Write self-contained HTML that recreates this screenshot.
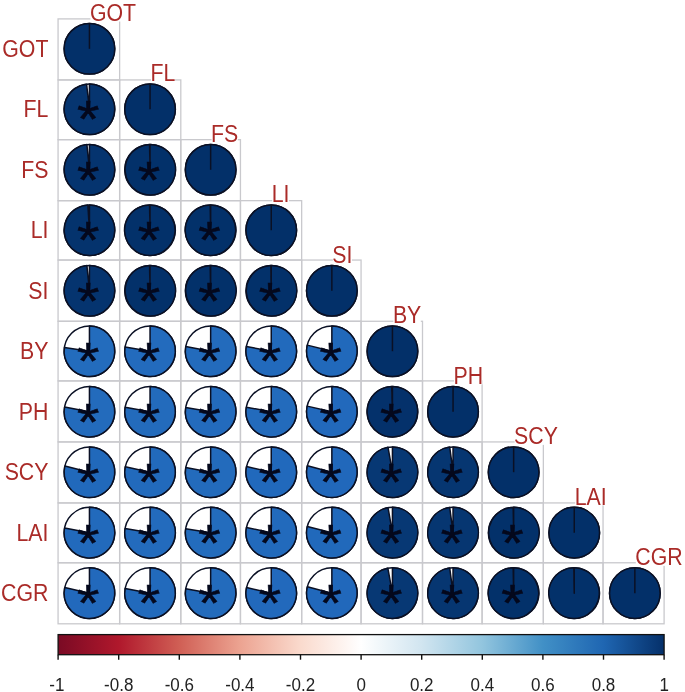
<!DOCTYPE html>
<html><head><meta charset="utf-8"><title>Correlation plot</title>
<style>html,body{margin:0;padding:0;background:#fff}svg{display:block}</style></head>
<body>
<svg width="685" height="692" viewBox="0 0 685 692" font-family="'Liberation Sans', sans-serif">
<rect width="685" height="692" fill="#fff"/>
<rect x="58.07" y="18.90" width="61.56" height="61.03" fill="none" stroke="#c9c9cd" stroke-width="1.3"/>
<rect x="58.07" y="79.93" width="61.56" height="59.71" fill="none" stroke="#c9c9cd" stroke-width="1.3"/>
<rect x="119.63" y="79.93" width="61.17" height="59.71" fill="none" stroke="#c9c9cd" stroke-width="1.3"/>
<rect x="58.07" y="139.64" width="61.56" height="61.02" fill="none" stroke="#c9c9cd" stroke-width="1.3"/>
<rect x="119.63" y="139.64" width="61.17" height="61.02" fill="none" stroke="#c9c9cd" stroke-width="1.3"/>
<rect x="180.80" y="139.64" width="59.65" height="61.02" fill="none" stroke="#c9c9cd" stroke-width="1.3"/>
<rect x="58.07" y="200.66" width="61.56" height="59.39" fill="none" stroke="#c9c9cd" stroke-width="1.3"/>
<rect x="119.63" y="200.66" width="61.17" height="59.39" fill="none" stroke="#c9c9cd" stroke-width="1.3"/>
<rect x="180.80" y="200.66" width="59.65" height="59.39" fill="none" stroke="#c9c9cd" stroke-width="1.3"/>
<rect x="240.45" y="200.66" width="61.21" height="59.39" fill="none" stroke="#c9c9cd" stroke-width="1.3"/>
<rect x="58.07" y="260.05" width="61.56" height="61.23" fill="none" stroke="#c9c9cd" stroke-width="1.3"/>
<rect x="119.63" y="260.05" width="61.17" height="61.23" fill="none" stroke="#c9c9cd" stroke-width="1.3"/>
<rect x="180.80" y="260.05" width="59.65" height="61.23" fill="none" stroke="#c9c9cd" stroke-width="1.3"/>
<rect x="240.45" y="260.05" width="61.21" height="61.23" fill="none" stroke="#c9c9cd" stroke-width="1.3"/>
<rect x="301.66" y="260.05" width="59.41" height="61.23" fill="none" stroke="#c9c9cd" stroke-width="1.3"/>
<rect x="58.07" y="321.28" width="61.56" height="59.62" fill="none" stroke="#c9c9cd" stroke-width="1.3"/>
<rect x="119.63" y="321.28" width="61.17" height="59.62" fill="none" stroke="#c9c9cd" stroke-width="1.3"/>
<rect x="180.80" y="321.28" width="59.65" height="59.62" fill="none" stroke="#c9c9cd" stroke-width="1.3"/>
<rect x="240.45" y="321.28" width="61.21" height="59.62" fill="none" stroke="#c9c9cd" stroke-width="1.3"/>
<rect x="301.66" y="321.28" width="59.41" height="59.62" fill="none" stroke="#c9c9cd" stroke-width="1.3"/>
<rect x="361.07" y="321.28" width="61.43" height="59.62" fill="none" stroke="#c9c9cd" stroke-width="1.3"/>
<rect x="58.07" y="380.90" width="61.56" height="61.03" fill="none" stroke="#c9c9cd" stroke-width="1.3"/>
<rect x="119.63" y="380.90" width="61.17" height="61.03" fill="none" stroke="#c9c9cd" stroke-width="1.3"/>
<rect x="180.80" y="380.90" width="59.65" height="61.03" fill="none" stroke="#c9c9cd" stroke-width="1.3"/>
<rect x="240.45" y="380.90" width="61.21" height="61.03" fill="none" stroke="#c9c9cd" stroke-width="1.3"/>
<rect x="301.66" y="380.90" width="59.41" height="61.03" fill="none" stroke="#c9c9cd" stroke-width="1.3"/>
<rect x="361.07" y="380.90" width="61.43" height="61.03" fill="none" stroke="#c9c9cd" stroke-width="1.3"/>
<rect x="422.50" y="380.90" width="59.60" height="61.03" fill="none" stroke="#c9c9cd" stroke-width="1.3"/>
<rect x="58.07" y="441.93" width="61.56" height="61.00" fill="none" stroke="#c9c9cd" stroke-width="1.3"/>
<rect x="119.63" y="441.93" width="61.17" height="61.00" fill="none" stroke="#c9c9cd" stroke-width="1.3"/>
<rect x="180.80" y="441.93" width="59.65" height="61.00" fill="none" stroke="#c9c9cd" stroke-width="1.3"/>
<rect x="240.45" y="441.93" width="61.21" height="61.00" fill="none" stroke="#c9c9cd" stroke-width="1.3"/>
<rect x="301.66" y="441.93" width="59.41" height="61.00" fill="none" stroke="#c9c9cd" stroke-width="1.3"/>
<rect x="361.07" y="441.93" width="61.43" height="61.00" fill="none" stroke="#c9c9cd" stroke-width="1.3"/>
<rect x="422.50" y="441.93" width="59.60" height="61.00" fill="none" stroke="#c9c9cd" stroke-width="1.3"/>
<rect x="482.10" y="441.93" width="61.26" height="61.00" fill="none" stroke="#c9c9cd" stroke-width="1.3"/>
<rect x="58.07" y="502.93" width="61.56" height="59.85" fill="none" stroke="#c9c9cd" stroke-width="1.3"/>
<rect x="119.63" y="502.93" width="61.17" height="59.85" fill="none" stroke="#c9c9cd" stroke-width="1.3"/>
<rect x="180.80" y="502.93" width="59.65" height="59.85" fill="none" stroke="#c9c9cd" stroke-width="1.3"/>
<rect x="240.45" y="502.93" width="61.21" height="59.85" fill="none" stroke="#c9c9cd" stroke-width="1.3"/>
<rect x="301.66" y="502.93" width="59.41" height="59.85" fill="none" stroke="#c9c9cd" stroke-width="1.3"/>
<rect x="361.07" y="502.93" width="61.43" height="59.85" fill="none" stroke="#c9c9cd" stroke-width="1.3"/>
<rect x="422.50" y="502.93" width="59.60" height="59.85" fill="none" stroke="#c9c9cd" stroke-width="1.3"/>
<rect x="482.10" y="502.93" width="61.26" height="59.85" fill="none" stroke="#c9c9cd" stroke-width="1.3"/>
<rect x="543.36" y="502.93" width="59.69" height="59.85" fill="none" stroke="#c9c9cd" stroke-width="1.3"/>
<rect x="58.07" y="562.78" width="61.56" height="61.02" fill="none" stroke="#c9c9cd" stroke-width="1.3"/>
<rect x="119.63" y="562.78" width="61.17" height="61.02" fill="none" stroke="#c9c9cd" stroke-width="1.3"/>
<rect x="180.80" y="562.78" width="59.65" height="61.02" fill="none" stroke="#c9c9cd" stroke-width="1.3"/>
<rect x="240.45" y="562.78" width="61.21" height="61.02" fill="none" stroke="#c9c9cd" stroke-width="1.3"/>
<rect x="301.66" y="562.78" width="59.41" height="61.02" fill="none" stroke="#c9c9cd" stroke-width="1.3"/>
<rect x="361.07" y="562.78" width="61.43" height="61.02" fill="none" stroke="#c9c9cd" stroke-width="1.3"/>
<rect x="422.50" y="562.78" width="59.60" height="61.02" fill="none" stroke="#c9c9cd" stroke-width="1.3"/>
<rect x="482.10" y="562.78" width="61.26" height="61.02" fill="none" stroke="#c9c9cd" stroke-width="1.3"/>
<rect x="543.36" y="562.78" width="59.69" height="61.02" fill="none" stroke="#c9c9cd" stroke-width="1.3"/>
<rect x="603.05" y="562.78" width="61.05" height="61.02" fill="none" stroke="#c9c9cd" stroke-width="1.3"/>
<circle cx="89.45" cy="48.79" r="25.3" fill="#fff" stroke="#0a1024" stroke-width="1.5"/>
<circle cx="89.45" cy="48.79" r="25.3" fill="#033069" stroke="#0a1024" stroke-width="1.5"/>
<line x1="89.45" y1="48.79" x2="89.45" y2="23.49" stroke="#0a1024" stroke-width="1.5"/>
<circle cx="89.45" cy="109.28" r="25.3" fill="#fff" stroke="#0a1024" stroke-width="1.5"/>
<path d="M89.45,109.28 L89.45,83.98 A25.3,25.3 0 1 1 86.59,84.14 Z" fill="#063570" stroke="#0a1024" stroke-width="1.5" stroke-linejoin="round"/>
<text transform="translate(88.25,137.43) scale(1,0.9)" x="0" y="0" font-size="57.5" text-anchor="middle" fill="#04081c" stroke="#04081c" stroke-width="0.6">*</text>
<circle cx="150.05" cy="109.28" r="25.3" fill="#fff" stroke="#0a1024" stroke-width="1.5"/>
<circle cx="150.05" cy="109.28" r="25.3" fill="#033069" stroke="#0a1024" stroke-width="1.5"/>
<line x1="150.05" y1="109.28" x2="150.05" y2="83.98" stroke="#0a1024" stroke-width="1.5"/>
<circle cx="89.45" cy="169.76" r="25.3" fill="#fff" stroke="#0a1024" stroke-width="1.5"/>
<path d="M89.45,169.76 L89.45,144.46 A25.3,25.3 0 1 1 86.91,144.59 Z" fill="#05346f" stroke="#0a1024" stroke-width="1.5" stroke-linejoin="round"/>
<text transform="translate(88.25,197.91) scale(1,0.9)" x="0" y="0" font-size="57.5" text-anchor="middle" fill="#04081c" stroke="#04081c" stroke-width="0.6">*</text>
<circle cx="150.05" cy="169.76" r="25.3" fill="#fff" stroke="#0a1024" stroke-width="1.5"/>
<path d="M150.05,169.76 L150.05,144.46 A25.3,25.3 0 1 1 149.57,144.47 Z" fill="#03316a" stroke="#0a1024" stroke-width="1.5" stroke-linejoin="round"/>
<text transform="translate(148.85,197.91) scale(1,0.9)" x="0" y="0" font-size="57.5" text-anchor="middle" fill="#04081c" stroke="#04081c" stroke-width="0.6">*</text>
<circle cx="210.65" cy="169.76" r="25.3" fill="#fff" stroke="#0a1024" stroke-width="1.5"/>
<circle cx="210.65" cy="169.76" r="25.3" fill="#033069" stroke="#0a1024" stroke-width="1.5"/>
<line x1="210.65" y1="169.76" x2="210.65" y2="144.46" stroke="#0a1024" stroke-width="1.5"/>
<circle cx="89.45" cy="230.25" r="25.3" fill="#fff" stroke="#0a1024" stroke-width="1.5"/>
<path d="M89.45,230.25 L89.45,204.95 A25.3,25.3 0 1 1 87.86,205.00 Z" fill="#04336d" stroke="#0a1024" stroke-width="1.5" stroke-linejoin="round"/>
<text transform="translate(88.25,258.40) scale(1,0.9)" x="0" y="0" font-size="57.5" text-anchor="middle" fill="#04081c" stroke="#04081c" stroke-width="0.6">*</text>
<circle cx="150.05" cy="230.25" r="25.3" fill="#fff" stroke="#0a1024" stroke-width="1.5"/>
<path d="M150.05,230.25 L150.05,204.95 A25.3,25.3 0 1 1 149.57,204.95 Z" fill="#03316a" stroke="#0a1024" stroke-width="1.5" stroke-linejoin="round"/>
<text transform="translate(148.85,258.40) scale(1,0.9)" x="0" y="0" font-size="57.5" text-anchor="middle" fill="#04081c" stroke="#04081c" stroke-width="0.6">*</text>
<circle cx="210.65" cy="230.25" r="25.3" fill="#fff" stroke="#0a1024" stroke-width="1.5"/>
<path d="M210.65,230.25 L210.65,204.95 A25.3,25.3 0 1 1 210.17,204.95 Z" fill="#03316a" stroke="#0a1024" stroke-width="1.5" stroke-linejoin="round"/>
<text transform="translate(209.45,258.40) scale(1,0.9)" x="0" y="0" font-size="57.5" text-anchor="middle" fill="#04081c" stroke="#04081c" stroke-width="0.6">*</text>
<circle cx="271.25" cy="230.25" r="25.3" fill="#fff" stroke="#0a1024" stroke-width="1.5"/>
<circle cx="271.25" cy="230.25" r="25.3" fill="#033069" stroke="#0a1024" stroke-width="1.5"/>
<line x1="271.25" y1="230.25" x2="271.25" y2="204.95" stroke="#0a1024" stroke-width="1.5"/>
<circle cx="89.45" cy="290.73" r="25.3" fill="#fff" stroke="#0a1024" stroke-width="1.5"/>
<path d="M89.45,290.73 L89.45,265.43 A25.3,25.3 0 1 1 86.91,265.56 Z" fill="#05346f" stroke="#0a1024" stroke-width="1.5" stroke-linejoin="round"/>
<text transform="translate(88.25,318.88) scale(1,0.9)" x="0" y="0" font-size="57.5" text-anchor="middle" fill="#04081c" stroke="#04081c" stroke-width="0.6">*</text>
<circle cx="150.05" cy="290.73" r="25.3" fill="#fff" stroke="#0a1024" stroke-width="1.5"/>
<path d="M150.05,290.73 L150.05,265.43 A25.3,25.3 0 1 1 149.57,265.44 Z" fill="#03316a" stroke="#0a1024" stroke-width="1.5" stroke-linejoin="round"/>
<text transform="translate(148.85,318.88) scale(1,0.9)" x="0" y="0" font-size="57.5" text-anchor="middle" fill="#04081c" stroke="#04081c" stroke-width="0.6">*</text>
<circle cx="210.65" cy="290.73" r="25.3" fill="#fff" stroke="#0a1024" stroke-width="1.5"/>
<path d="M210.65,290.73 L210.65,265.43 A25.3,25.3 0 1 1 210.17,265.44 Z" fill="#03316a" stroke="#0a1024" stroke-width="1.5" stroke-linejoin="round"/>
<text transform="translate(209.45,318.88) scale(1,0.9)" x="0" y="0" font-size="57.5" text-anchor="middle" fill="#04081c" stroke="#04081c" stroke-width="0.6">*</text>
<circle cx="271.25" cy="290.73" r="25.3" fill="#fff" stroke="#0a1024" stroke-width="1.5"/>
<path d="M271.25,290.73 L271.25,265.43 A25.3,25.3 0 1 1 270.77,265.44 Z" fill="#03316a" stroke="#0a1024" stroke-width="1.5" stroke-linejoin="round"/>
<text transform="translate(270.05,318.88) scale(1,0.9)" x="0" y="0" font-size="57.5" text-anchor="middle" fill="#04081c" stroke="#04081c" stroke-width="0.6">*</text>
<circle cx="331.85" cy="290.73" r="25.3" fill="#fff" stroke="#0a1024" stroke-width="1.5"/>
<circle cx="331.85" cy="290.73" r="25.3" fill="#033069" stroke="#0a1024" stroke-width="1.5"/>
<line x1="331.85" y1="290.73" x2="331.85" y2="265.43" stroke="#0a1024" stroke-width="1.5"/>
<circle cx="89.45" cy="351.22" r="25.3" fill="#fff" stroke="#0a1024" stroke-width="1.5"/>
<path d="M89.45,351.22 L89.45,325.92 A25.3,25.3 0 1 1 64.43,347.48 Z" fill="#236cbd" stroke="#0a1024" stroke-width="1.5" stroke-linejoin="round"/>
<text transform="translate(88.25,379.37) scale(1,0.9)" x="0" y="0" font-size="57.5" text-anchor="middle" fill="#04081c" stroke="#04081c" stroke-width="0.6">*</text>
<circle cx="150.05" cy="351.22" r="25.3" fill="#fff" stroke="#0a1024" stroke-width="1.5"/>
<path d="M150.05,351.22 L150.05,325.92 A25.3,25.3 0 1 1 125.10,347.00 Z" fill="#236bbd" stroke="#0a1024" stroke-width="1.5" stroke-linejoin="round"/>
<text transform="translate(148.85,379.37) scale(1,0.9)" x="0" y="0" font-size="57.5" text-anchor="middle" fill="#04081c" stroke="#04081c" stroke-width="0.6">*</text>
<circle cx="210.65" cy="351.22" r="25.3" fill="#fff" stroke="#0a1024" stroke-width="1.5"/>
<path d="M210.65,351.22 L210.65,325.92 A25.3,25.3 0 1 1 185.77,346.61 Z" fill="#236bbc" stroke="#0a1024" stroke-width="1.5" stroke-linejoin="round"/>
<text transform="translate(209.45,379.37) scale(1,0.9)" x="0" y="0" font-size="57.5" text-anchor="middle" fill="#04081c" stroke="#04081c" stroke-width="0.6">*</text>
<circle cx="271.25" cy="351.22" r="25.3" fill="#fff" stroke="#0a1024" stroke-width="1.5"/>
<path d="M271.25,351.22 L271.25,325.92 A25.3,25.3 0 1 1 246.40,346.48 Z" fill="#226abc" stroke="#0a1024" stroke-width="1.5" stroke-linejoin="round"/>
<text transform="translate(270.05,379.37) scale(1,0.9)" x="0" y="0" font-size="57.5" text-anchor="middle" fill="#04081c" stroke="#04081c" stroke-width="0.6">*</text>
<circle cx="331.85" cy="351.22" r="25.3" fill="#fff" stroke="#0a1024" stroke-width="1.5"/>
<path d="M331.85,351.22 L331.85,325.92 A25.3,25.3 0 1 1 307.29,345.14 Z" fill="#2169bb" stroke="#0a1024" stroke-width="1.5" stroke-linejoin="round"/>
<text transform="translate(330.65,379.37) scale(1,0.9)" x="0" y="0" font-size="57.5" text-anchor="middle" fill="#04081c" stroke="#04081c" stroke-width="0.6">*</text>
<circle cx="392.45" cy="351.22" r="25.3" fill="#fff" stroke="#0a1024" stroke-width="1.5"/>
<circle cx="392.45" cy="351.22" r="25.3" fill="#033069" stroke="#0a1024" stroke-width="1.5"/>
<line x1="392.45" y1="351.22" x2="392.45" y2="325.92" stroke="#0a1024" stroke-width="1.5"/>
<circle cx="89.45" cy="411.70" r="25.3" fill="#fff" stroke="#0a1024" stroke-width="1.5"/>
<path d="M89.45,411.70 L89.45,386.40 A25.3,25.3 0 1 1 64.57,407.09 Z" fill="#236bbc" stroke="#0a1024" stroke-width="1.5" stroke-linejoin="round"/>
<text transform="translate(88.25,439.85) scale(1,0.9)" x="0" y="0" font-size="57.5" text-anchor="middle" fill="#04081c" stroke="#04081c" stroke-width="0.6">*</text>
<circle cx="150.05" cy="411.70" r="25.3" fill="#fff" stroke="#0a1024" stroke-width="1.5"/>
<path d="M150.05,411.70 L150.05,386.40 A25.3,25.3 0 1 1 125.15,407.22 Z" fill="#236bbc" stroke="#0a1024" stroke-width="1.5" stroke-linejoin="round"/>
<text transform="translate(148.85,439.85) scale(1,0.9)" x="0" y="0" font-size="57.5" text-anchor="middle" fill="#04081c" stroke="#04081c" stroke-width="0.6">*</text>
<circle cx="210.65" cy="411.70" r="25.3" fill="#fff" stroke="#0a1024" stroke-width="1.5"/>
<path d="M210.65,411.70 L210.65,386.40 A25.3,25.3 0 1 1 185.70,407.53 Z" fill="#236bbd" stroke="#0a1024" stroke-width="1.5" stroke-linejoin="round"/>
<text transform="translate(209.45,439.85) scale(1,0.9)" x="0" y="0" font-size="57.5" text-anchor="middle" fill="#04081c" stroke="#04081c" stroke-width="0.6">*</text>
<circle cx="271.25" cy="411.70" r="25.3" fill="#fff" stroke="#0a1024" stroke-width="1.5"/>
<path d="M271.25,411.70 L271.25,386.40 A25.3,25.3 0 1 1 246.35,407.22 Z" fill="#236bbc" stroke="#0a1024" stroke-width="1.5" stroke-linejoin="round"/>
<text transform="translate(270.05,439.85) scale(1,0.9)" x="0" y="0" font-size="57.5" text-anchor="middle" fill="#04081c" stroke="#04081c" stroke-width="0.6">*</text>
<circle cx="331.85" cy="411.70" r="25.3" fill="#fff" stroke="#0a1024" stroke-width="1.5"/>
<path d="M331.85,411.70 L331.85,386.40 A25.3,25.3 0 1 1 307.17,406.14 Z" fill="#2269bc" stroke="#0a1024" stroke-width="1.5" stroke-linejoin="round"/>
<text transform="translate(330.65,439.85) scale(1,0.9)" x="0" y="0" font-size="57.5" text-anchor="middle" fill="#04081c" stroke="#04081c" stroke-width="0.6">*</text>
<circle cx="392.45" cy="411.70" r="25.3" fill="#fff" stroke="#0a1024" stroke-width="1.5"/>
<path d="M392.45,411.70 L392.45,386.40 A25.3,25.3 0 1 1 391.66,386.41 Z" fill="#04316b" stroke="#0a1024" stroke-width="1.5" stroke-linejoin="round"/>
<text transform="translate(391.25,439.85) scale(1,0.9)" x="0" y="0" font-size="57.5" text-anchor="middle" fill="#04081c" stroke="#04081c" stroke-width="0.6">*</text>
<circle cx="453.05" cy="411.70" r="25.3" fill="#fff" stroke="#0a1024" stroke-width="1.5"/>
<circle cx="453.05" cy="411.70" r="25.3" fill="#033069" stroke="#0a1024" stroke-width="1.5"/>
<line x1="453.05" y1="411.70" x2="453.05" y2="386.40" stroke="#0a1024" stroke-width="1.5"/>
<circle cx="89.45" cy="472.19" r="25.3" fill="#fff" stroke="#0a1024" stroke-width="1.5"/>
<path d="M89.45,472.19 L89.45,446.89 A25.3,25.3 0 1 1 64.90,466.07 Z" fill="#2169bb" stroke="#0a1024" stroke-width="1.5" stroke-linejoin="round"/>
<text transform="translate(88.25,500.34) scale(1,0.9)" x="0" y="0" font-size="57.5" text-anchor="middle" fill="#04081c" stroke="#04081c" stroke-width="0.6">*</text>
<circle cx="150.05" cy="472.19" r="25.3" fill="#fff" stroke="#0a1024" stroke-width="1.5"/>
<path d="M150.05,472.19 L150.05,446.89 A25.3,25.3 0 1 1 125.33,466.80 Z" fill="#226abc" stroke="#0a1024" stroke-width="1.5" stroke-linejoin="round"/>
<text transform="translate(148.85,500.34) scale(1,0.9)" x="0" y="0" font-size="57.5" text-anchor="middle" fill="#04081c" stroke="#04081c" stroke-width="0.6">*</text>
<circle cx="210.65" cy="472.19" r="25.3" fill="#fff" stroke="#0a1024" stroke-width="1.5"/>
<path d="M210.65,472.19 L210.65,446.89 A25.3,25.3 0 1 1 185.77,467.58 Z" fill="#236bbc" stroke="#0a1024" stroke-width="1.5" stroke-linejoin="round"/>
<text transform="translate(209.45,500.34) scale(1,0.9)" x="0" y="0" font-size="57.5" text-anchor="middle" fill="#04081c" stroke="#04081c" stroke-width="0.6">*</text>
<circle cx="271.25" cy="472.19" r="25.3" fill="#fff" stroke="#0a1024" stroke-width="1.5"/>
<path d="M271.25,472.19 L271.25,446.89 A25.3,25.3 0 1 1 246.60,466.50 Z" fill="#2169bc" stroke="#0a1024" stroke-width="1.5" stroke-linejoin="round"/>
<text transform="translate(270.05,500.34) scale(1,0.9)" x="0" y="0" font-size="57.5" text-anchor="middle" fill="#04081c" stroke="#04081c" stroke-width="0.6">*</text>
<circle cx="331.85" cy="472.19" r="25.3" fill="#fff" stroke="#0a1024" stroke-width="1.5"/>
<path d="M331.85,472.19 L331.85,446.89 A25.3,25.3 0 1 1 307.39,465.72 Z" fill="#2168bb" stroke="#0a1024" stroke-width="1.5" stroke-linejoin="round"/>
<text transform="translate(330.65,500.34) scale(1,0.9)" x="0" y="0" font-size="57.5" text-anchor="middle" fill="#04081c" stroke="#04081c" stroke-width="0.6">*</text>
<circle cx="392.45" cy="472.19" r="25.3" fill="#fff" stroke="#0a1024" stroke-width="1.5"/>
<path d="M392.45,472.19 L392.45,446.89 A25.3,25.3 0 1 1 388.02,447.28 Z" fill="#073874" stroke="#0a1024" stroke-width="1.5" stroke-linejoin="round"/>
<text transform="translate(391.25,500.34) scale(1,0.9)" x="0" y="0" font-size="57.5" text-anchor="middle" fill="#04081c" stroke="#04081c" stroke-width="0.6">*</text>
<circle cx="453.05" cy="472.19" r="25.3" fill="#fff" stroke="#0a1024" stroke-width="1.5"/>
<path d="M453.05,472.19 L453.05,446.89 A25.3,25.3 0 1 1 449.72,447.11 Z" fill="#063671" stroke="#0a1024" stroke-width="1.5" stroke-linejoin="round"/>
<text transform="translate(451.85,500.34) scale(1,0.9)" x="0" y="0" font-size="57.5" text-anchor="middle" fill="#04081c" stroke="#04081c" stroke-width="0.6">*</text>
<circle cx="513.65" cy="472.19" r="25.3" fill="#fff" stroke="#0a1024" stroke-width="1.5"/>
<circle cx="513.65" cy="472.19" r="25.3" fill="#033069" stroke="#0a1024" stroke-width="1.5"/>
<line x1="513.65" y1="472.19" x2="513.65" y2="446.89" stroke="#0a1024" stroke-width="1.5"/>
<circle cx="89.45" cy="532.67" r="25.3" fill="#fff" stroke="#0a1024" stroke-width="1.5"/>
<path d="M89.45,532.67 L89.45,507.37 A25.3,25.3 0 1 1 64.60,527.93 Z" fill="#226abc" stroke="#0a1024" stroke-width="1.5" stroke-linejoin="round"/>
<text transform="translate(88.25,560.82) scale(1,0.9)" x="0" y="0" font-size="57.5" text-anchor="middle" fill="#04081c" stroke="#04081c" stroke-width="0.6">*</text>
<circle cx="150.05" cy="532.67" r="25.3" fill="#fff" stroke="#0a1024" stroke-width="1.5"/>
<path d="M150.05,532.67 L150.05,507.37 A25.3,25.3 0 1 1 125.10,528.45 Z" fill="#236bbd" stroke="#0a1024" stroke-width="1.5" stroke-linejoin="round"/>
<text transform="translate(148.85,560.82) scale(1,0.9)" x="0" y="0" font-size="57.5" text-anchor="middle" fill="#04081c" stroke="#04081c" stroke-width="0.6">*</text>
<circle cx="210.65" cy="532.67" r="25.3" fill="#fff" stroke="#0a1024" stroke-width="1.5"/>
<path d="M210.65,532.67 L210.65,507.37 A25.3,25.3 0 1 1 185.65,528.80 Z" fill="#236cbd" stroke="#0a1024" stroke-width="1.5" stroke-linejoin="round"/>
<text transform="translate(209.45,560.82) scale(1,0.9)" x="0" y="0" font-size="57.5" text-anchor="middle" fill="#04081c" stroke="#04081c" stroke-width="0.6">*</text>
<circle cx="271.25" cy="532.67" r="25.3" fill="#fff" stroke="#0a1024" stroke-width="1.5"/>
<path d="M271.25,532.67 L271.25,507.37 A25.3,25.3 0 1 1 246.50,527.41 Z" fill="#226abc" stroke="#0a1024" stroke-width="1.5" stroke-linejoin="round"/>
<text transform="translate(270.05,560.82) scale(1,0.9)" x="0" y="0" font-size="57.5" text-anchor="middle" fill="#04081c" stroke="#04081c" stroke-width="0.6">*</text>
<circle cx="331.85" cy="532.67" r="25.3" fill="#fff" stroke="#0a1024" stroke-width="1.5"/>
<path d="M331.85,532.67 L331.85,507.37 A25.3,25.3 0 1 1 307.29,526.59 Z" fill="#2169bb" stroke="#0a1024" stroke-width="1.5" stroke-linejoin="round"/>
<text transform="translate(330.65,560.82) scale(1,0.9)" x="0" y="0" font-size="57.5" text-anchor="middle" fill="#04081c" stroke="#04081c" stroke-width="0.6">*</text>
<circle cx="392.45" cy="532.67" r="25.3" fill="#fff" stroke="#0a1024" stroke-width="1.5"/>
<path d="M392.45,532.67 L392.45,507.37 A25.3,25.3 0 1 1 388.02,507.76 Z" fill="#073874" stroke="#0a1024" stroke-width="1.5" stroke-linejoin="round"/>
<text transform="translate(391.25,560.82) scale(1,0.9)" x="0" y="0" font-size="57.5" text-anchor="middle" fill="#04081c" stroke="#04081c" stroke-width="0.6">*</text>
<circle cx="453.05" cy="532.67" r="25.3" fill="#fff" stroke="#0a1024" stroke-width="1.5"/>
<path d="M453.05,532.67 L453.05,507.37 A25.3,25.3 0 1 1 449.72,507.59 Z" fill="#063671" stroke="#0a1024" stroke-width="1.5" stroke-linejoin="round"/>
<text transform="translate(451.85,560.82) scale(1,0.9)" x="0" y="0" font-size="57.5" text-anchor="middle" fill="#04081c" stroke="#04081c" stroke-width="0.6">*</text>
<circle cx="513.65" cy="532.67" r="25.3" fill="#fff" stroke="#0a1024" stroke-width="1.5"/>
<path d="M513.65,532.67 L513.65,507.37 A25.3,25.3 0 1 1 513.17,507.38 Z" fill="#03316a" stroke="#0a1024" stroke-width="1.5" stroke-linejoin="round"/>
<text transform="translate(512.45,560.82) scale(1,0.9)" x="0" y="0" font-size="57.5" text-anchor="middle" fill="#04081c" stroke="#04081c" stroke-width="0.6">*</text>
<circle cx="574.25" cy="532.67" r="25.3" fill="#fff" stroke="#0a1024" stroke-width="1.5"/>
<circle cx="574.25" cy="532.67" r="25.3" fill="#033069" stroke="#0a1024" stroke-width="1.5"/>
<line x1="574.25" y1="532.67" x2="574.25" y2="507.37" stroke="#0a1024" stroke-width="1.5"/>
<circle cx="89.45" cy="593.16" r="25.3" fill="#fff" stroke="#0a1024" stroke-width="1.5"/>
<path d="M89.45,593.16 L89.45,567.86 A25.3,25.3 0 1 1 64.77,587.60 Z" fill="#2269bc" stroke="#0a1024" stroke-width="1.5" stroke-linejoin="round"/>
<text transform="translate(88.25,621.31) scale(1,0.9)" x="0" y="0" font-size="57.5" text-anchor="middle" fill="#04081c" stroke="#04081c" stroke-width="0.6">*</text>
<circle cx="150.05" cy="593.16" r="25.3" fill="#fff" stroke="#0a1024" stroke-width="1.5"/>
<path d="M150.05,593.16 L150.05,567.86 A25.3,25.3 0 1 1 125.20,588.42 Z" fill="#226abc" stroke="#0a1024" stroke-width="1.5" stroke-linejoin="round"/>
<text transform="translate(148.85,621.31) scale(1,0.9)" x="0" y="0" font-size="57.5" text-anchor="middle" fill="#04081c" stroke="#04081c" stroke-width="0.6">*</text>
<circle cx="210.65" cy="593.16" r="25.3" fill="#fff" stroke="#0a1024" stroke-width="1.5"/>
<path d="M210.65,593.16 L210.65,567.86 A25.3,25.3 0 1 1 185.75,588.68 Z" fill="#236bbc" stroke="#0a1024" stroke-width="1.5" stroke-linejoin="round"/>
<text transform="translate(209.45,621.31) scale(1,0.9)" x="0" y="0" font-size="57.5" text-anchor="middle" fill="#04081c" stroke="#04081c" stroke-width="0.6">*</text>
<circle cx="271.25" cy="593.16" r="25.3" fill="#fff" stroke="#0a1024" stroke-width="1.5"/>
<path d="M271.25,593.16 L271.25,567.86 A25.3,25.3 0 1 1 246.57,587.60 Z" fill="#2269bc" stroke="#0a1024" stroke-width="1.5" stroke-linejoin="round"/>
<text transform="translate(270.05,621.31) scale(1,0.9)" x="0" y="0" font-size="57.5" text-anchor="middle" fill="#04081c" stroke="#04081c" stroke-width="0.6">*</text>
<circle cx="331.85" cy="593.16" r="25.3" fill="#fff" stroke="#0a1024" stroke-width="1.5"/>
<path d="M331.85,593.16 L331.85,567.86 A25.3,25.3 0 1 1 307.36,586.82 Z" fill="#2168bb" stroke="#0a1024" stroke-width="1.5" stroke-linejoin="round"/>
<text transform="translate(330.65,621.31) scale(1,0.9)" x="0" y="0" font-size="57.5" text-anchor="middle" fill="#04081c" stroke="#04081c" stroke-width="0.6">*</text>
<circle cx="392.45" cy="593.16" r="25.3" fill="#fff" stroke="#0a1024" stroke-width="1.5"/>
<path d="M392.45,593.16 L392.45,567.86 A25.3,25.3 0 1 1 387.87,568.28 Z" fill="#073874" stroke="#0a1024" stroke-width="1.5" stroke-linejoin="round"/>
<text transform="translate(391.25,621.31) scale(1,0.9)" x="0" y="0" font-size="57.5" text-anchor="middle" fill="#04081c" stroke="#04081c" stroke-width="0.6">*</text>
<circle cx="453.05" cy="593.16" r="25.3" fill="#fff" stroke="#0a1024" stroke-width="1.5"/>
<path d="M453.05,593.16 L453.05,567.86 A25.3,25.3 0 1 1 449.72,568.08 Z" fill="#063671" stroke="#0a1024" stroke-width="1.5" stroke-linejoin="round"/>
<text transform="translate(451.85,621.31) scale(1,0.9)" x="0" y="0" font-size="57.5" text-anchor="middle" fill="#04081c" stroke="#04081c" stroke-width="0.6">*</text>
<circle cx="513.65" cy="593.16" r="25.3" fill="#fff" stroke="#0a1024" stroke-width="1.5"/>
<path d="M513.65,593.16 L513.65,567.86 A25.3,25.3 0 1 1 513.17,567.86 Z" fill="#03316a" stroke="#0a1024" stroke-width="1.5" stroke-linejoin="round"/>
<text transform="translate(512.45,621.31) scale(1,0.9)" x="0" y="0" font-size="57.5" text-anchor="middle" fill="#04081c" stroke="#04081c" stroke-width="0.6">*</text>
<circle cx="574.25" cy="593.16" r="25.3" fill="#fff" stroke="#0a1024" stroke-width="1.5"/>
<path d="M574.25,593.16 L574.25,567.86 A25.3,25.3 0 1 1 573.77,567.86 Z" fill="#03316a" stroke="#0a1024" stroke-width="1.5" stroke-linejoin="round"/>
<circle cx="634.85" cy="593.16" r="25.3" fill="#fff" stroke="#0a1024" stroke-width="1.5"/>
<circle cx="634.85" cy="593.16" r="25.3" fill="#033069" stroke="#0a1024" stroke-width="1.5"/>
<line x1="634.85" y1="593.16" x2="634.85" y2="567.86" stroke="#0a1024" stroke-width="1.5"/>
<text transform="translate(48.4,56.64) scale(1,1.1)" font-size="21.3" text-anchor="end" fill="#aa2b28">GOT</text>
<rect x="90.40" y="3.50" width="45.16" height="18" fill="#fff"/>
<text transform="translate(89.90,20.80) scale(1,1.1)" font-size="21.3" text-anchor="start" fill="#aa2b28">GOT</text>
<text transform="translate(48.4,117.13) scale(1,1.1)" font-size="21.3" text-anchor="end" fill="#aa2b28">FL</text>
<rect x="151.00" y="63.98" width="23.86" height="18" fill="#fff"/>
<text transform="translate(150.50,81.28) scale(1,1.1)" font-size="21.3" text-anchor="start" fill="#aa2b28">FL</text>
<text transform="translate(48.4,177.61) scale(1,1.1)" font-size="21.3" text-anchor="end" fill="#aa2b28">FS</text>
<rect x="211.60" y="124.47" width="26.22" height="18" fill="#fff"/>
<text transform="translate(211.10,141.77) scale(1,1.1)" font-size="21.3" text-anchor="start" fill="#aa2b28">FS</text>
<text transform="translate(48.4,238.10) scale(1,1.1)" font-size="21.3" text-anchor="end" fill="#aa2b28">LI</text>
<rect x="272.20" y="184.95" width="16.76" height="18" fill="#fff"/>
<text transform="translate(271.70,202.25) scale(1,1.1)" font-size="21.3" text-anchor="start" fill="#aa2b28">LI</text>
<text transform="translate(48.4,298.58) scale(1,1.1)" font-size="21.3" text-anchor="end" fill="#aa2b28">SI</text>
<rect x="332.80" y="245.44" width="19.13" height="18" fill="#fff"/>
<text transform="translate(332.30,262.74) scale(1,1.1)" font-size="21.3" text-anchor="start" fill="#aa2b28">SI</text>
<text transform="translate(48.4,359.07) scale(1,1.1)" font-size="21.3" text-anchor="end" fill="#aa2b28">BY</text>
<rect x="393.40" y="305.93" width="27.41" height="18" fill="#fff"/>
<text transform="translate(392.90,323.23) scale(1,1.1)" font-size="21.3" text-anchor="start" fill="#aa2b28">BY</text>
<text transform="translate(48.4,419.55) scale(1,1.1)" font-size="21.3" text-anchor="end" fill="#aa2b28">PH</text>
<rect x="454.00" y="366.41" width="28.59" height="18" fill="#fff"/>
<text transform="translate(453.50,383.71) scale(1,1.1)" font-size="21.3" text-anchor="start" fill="#aa2b28">PH</text>
<text transform="translate(48.4,480.04) scale(1,1.1)" font-size="21.3" text-anchor="end" fill="#aa2b28">SCY</text>
<rect x="514.60" y="426.89" width="42.79" height="18" fill="#fff"/>
<text transform="translate(514.10,444.19) scale(1,1.1)" font-size="21.3" text-anchor="start" fill="#aa2b28">SCY</text>
<text transform="translate(48.4,540.52) scale(1,1.1)" font-size="21.3" text-anchor="end" fill="#aa2b28">LAI</text>
<rect x="575.20" y="487.38" width="30.97" height="18" fill="#fff"/>
<text transform="translate(574.70,504.68) scale(1,1.1)" font-size="21.3" text-anchor="start" fill="#aa2b28">LAI</text>
<text transform="translate(48.4,601.01) scale(1,1.1)" font-size="21.3" text-anchor="end" fill="#aa2b28">CGR</text>
<rect x="635.80" y="547.87" width="46.33" height="18" fill="#fff"/>
<text transform="translate(635.30,565.16) scale(1,1.1)" font-size="21.3" text-anchor="start" fill="#aa2b28">CGR</text>
<defs><linearGradient id="g" x1="0" x2="1" y1="0" y2="0"><stop offset="0%" stop-color="#7a0a24"/><stop offset="10%" stop-color="#B0182C"/><stop offset="20%" stop-color="#D05F55"/><stop offset="30%" stop-color="#ECA391"/><stop offset="40%" stop-color="#FADACD"/><stop offset="50%" stop-color="#FFFFFF"/><stop offset="60%" stop-color="#D1E5F0"/><stop offset="70%" stop-color="#92C5DE"/><stop offset="80%" stop-color="#4190C6"/><stop offset="90%" stop-color="#1f66b2"/><stop offset="100%" stop-color="#05306a"/></linearGradient></defs>
<rect x="58.1" y="634.6" width="606.0" height="20.100000000000023" fill="url(#g)" stroke="#111" stroke-width="1.3"/>
<line x1="58.10" y1="654.7" x2="58.10" y2="659.7" stroke="#111" stroke-width="1.4"/>
<text transform="translate(56.90,691) scale(1,1.06)" font-size="17" text-anchor="middle" fill="#222">-1</text>
<line x1="118.70" y1="654.7" x2="118.70" y2="659.7" stroke="#111" stroke-width="1.4"/>
<text transform="translate(118.70,691) scale(1,1.06)" font-size="17" text-anchor="middle" fill="#222">-0.8</text>
<line x1="179.30" y1="654.7" x2="179.30" y2="659.7" stroke="#111" stroke-width="1.4"/>
<text transform="translate(179.30,691) scale(1,1.06)" font-size="17" text-anchor="middle" fill="#222">-0.6</text>
<line x1="239.90" y1="654.7" x2="239.90" y2="659.7" stroke="#111" stroke-width="1.4"/>
<text transform="translate(239.90,691) scale(1,1.06)" font-size="17" text-anchor="middle" fill="#222">-0.4</text>
<line x1="300.50" y1="654.7" x2="300.50" y2="659.7" stroke="#111" stroke-width="1.4"/>
<text transform="translate(300.50,691) scale(1,1.06)" font-size="17" text-anchor="middle" fill="#222">-0.2</text>
<line x1="361.10" y1="654.7" x2="361.10" y2="659.7" stroke="#111" stroke-width="1.4"/>
<text transform="translate(361.10,691) scale(1,1.06)" font-size="17" text-anchor="middle" fill="#222">0</text>
<line x1="421.70" y1="654.7" x2="421.70" y2="659.7" stroke="#111" stroke-width="1.4"/>
<text transform="translate(421.70,691) scale(1,1.06)" font-size="17" text-anchor="middle" fill="#222">0.2</text>
<line x1="482.30" y1="654.7" x2="482.30" y2="659.7" stroke="#111" stroke-width="1.4"/>
<text transform="translate(482.30,691) scale(1,1.06)" font-size="17" text-anchor="middle" fill="#222">0.4</text>
<line x1="542.90" y1="654.7" x2="542.90" y2="659.7" stroke="#111" stroke-width="1.4"/>
<text transform="translate(542.90,691) scale(1,1.06)" font-size="17" text-anchor="middle" fill="#222">0.6</text>
<line x1="603.50" y1="654.7" x2="603.50" y2="659.7" stroke="#111" stroke-width="1.4"/>
<text transform="translate(603.50,691) scale(1,1.06)" font-size="17" text-anchor="middle" fill="#222">0.8</text>
<line x1="664.10" y1="654.7" x2="664.10" y2="659.7" stroke="#111" stroke-width="1.4"/>
<text transform="translate(664.10,691) scale(1,1.06)" font-size="17" text-anchor="middle" fill="#222">1</text>
</svg>
</body></html>
